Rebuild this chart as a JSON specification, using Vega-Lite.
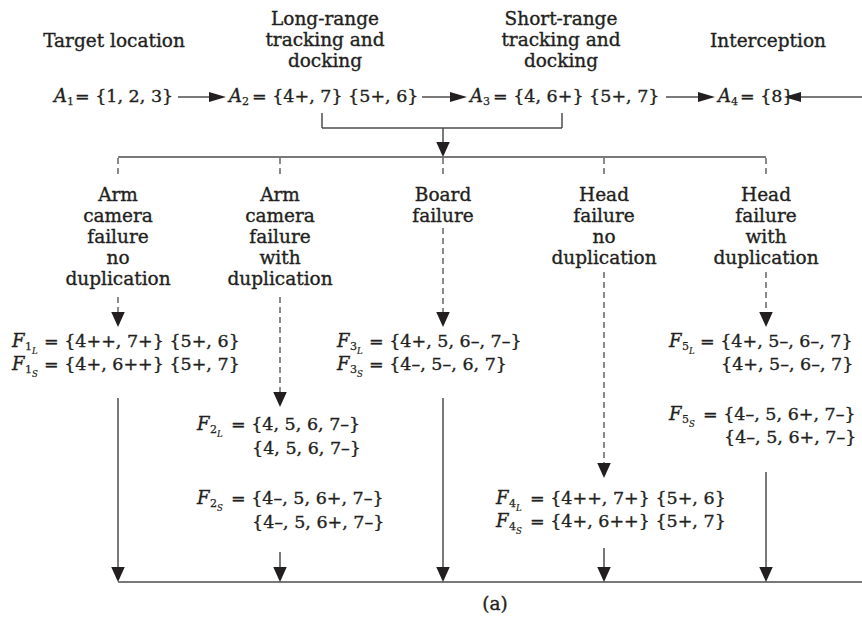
{
  "$schema": "https://vega.github.io/schema/vega-lite/v6.json",
  "width": 862,
  "height": 619,
  "padding": 0,
  "autosize": "none",
  "background": "white",
  "config": {"view": {"stroke": null}},
  "datasets": {
    "centerText": [
      {"x": 114, "y": 41, "t": "Target location"},
      {"x": 325, "y": 19, "t": "Long-range"},
      {"x": 325, "y": 40, "t": "tracking and"},
      {"x": 325, "y": 61, "t": "docking"},
      {"x": 561, "y": 19, "t": "Short-range"},
      {"x": 561, "y": 40, "t": "tracking and"},
      {"x": 561, "y": 61, "t": "docking"},
      {"x": 768, "y": 41, "t": "Interception"},
      {"x": 118, "y": 195, "t": "Arm"},
      {"x": 118, "y": 216, "t": "camera"},
      {"x": 118, "y": 237, "t": "failure"},
      {"x": 118, "y": 258, "t": "no"},
      {"x": 118, "y": 279, "t": "duplication"},
      {"x": 280, "y": 195, "t": "Arm"},
      {"x": 280, "y": 216, "t": "camera"},
      {"x": 280, "y": 237, "t": "failure"},
      {"x": 280, "y": 258, "t": "with"},
      {"x": 280, "y": 279, "t": "duplication"},
      {"x": 443, "y": 195, "t": "Board"},
      {"x": 443, "y": 216, "t": "failure"},
      {"x": 604, "y": 195, "t": "Head"},
      {"x": 604, "y": 216, "t": "failure"},
      {"x": 604, "y": 237, "t": "no"},
      {"x": 604, "y": 258, "t": "duplication"},
      {"x": 766, "y": 195, "t": "Head"},
      {"x": 766, "y": 216, "t": "failure"},
      {"x": 766, "y": 237, "t": "with"},
      {"x": 766, "y": 258, "t": "duplication"},
      {"x": 495, "y": 604, "t": "(a)"}
    ],
    "leftText": [
      {"x": 75, "y": 97, "t": "= {1, 2, 3}"},
      {"x": 252, "y": 97, "t": "= {4+, 7} {5+, 6}"},
      {"x": 493, "y": 97, "t": "= {4, 6+} {5+, 7}"},
      {"x": 740, "y": 97, "t": "= {8}"},
      {"x": 44, "y": 342, "t": "= {4++, 7+} {5+, 6}"},
      {"x": 44, "y": 365, "t": "= {4+, 6++} {5+, 7}"},
      {"x": 231, "y": 425, "t": "= {4, 5, 6, 7–}"},
      {"x": 252, "y": 449, "t": "{4, 5, 6, 7–}"},
      {"x": 231, "y": 499, "t": "= {4–, 5, 6+, 7–}"},
      {"x": 252, "y": 523, "t": "{4–, 5, 6+, 7–}"},
      {"x": 369, "y": 342, "t": "= {4+, 5, 6–, 7–}"},
      {"x": 369, "y": 365, "t": "= {4–, 5–, 6, 7}"},
      {"x": 530, "y": 499, "t": "= {4++, 7+} {5+, 6}"},
      {"x": 530, "y": 522, "t": "= {4+, 6++} {5+, 7}"},
      {"x": 700, "y": 342, "t": "= {4+, 5–, 6–, 7}"},
      {"x": 721, "y": 365, "t": "{4+, 5–, 6–, 7}"},
      {"x": 703, "y": 415, "t": "= {4–, 5, 6+, 7–}"},
      {"x": 724, "y": 438, "t": "{4–, 5, 6+, 7–}"}
    ],
    "italicText": [
      {"x": 54, "y": 97, "t": "A"},
      {"x": 229, "y": 97, "t": "A"},
      {"x": 470, "y": 97, "t": "A"},
      {"x": 718, "y": 97, "t": "A"},
      {"x": 12, "y": 342, "t": "F"},
      {"x": 12, "y": 365, "t": "F"},
      {"x": 197, "y": 425, "t": "F"},
      {"x": 197, "y": 499, "t": "F"},
      {"x": 337, "y": 342, "t": "F"},
      {"x": 337, "y": 365, "t": "F"},
      {"x": 496, "y": 499, "t": "F"},
      {"x": 496, "y": 522, "t": "F"},
      {"x": 669, "y": 342, "t": "F"},
      {"x": 669, "y": 415, "t": "F"}
    ],
    "subText": [
      {"x": 67, "y": 102, "t": "1"},
      {"x": 242, "y": 102, "t": "2"},
      {"x": 483, "y": 102, "t": "3"},
      {"x": 731, "y": 102, "t": "4"},
      {"x": 25, "y": 347, "t": "1"},
      {"x": 25, "y": 370, "t": "1"},
      {"x": 210, "y": 430, "t": "2"},
      {"x": 210, "y": 504, "t": "2"},
      {"x": 350, "y": 347, "t": "3"},
      {"x": 350, "y": 370, "t": "3"},
      {"x": 509, "y": 504, "t": "4"},
      {"x": 509, "y": 527, "t": "4"},
      {"x": 682, "y": 347, "t": "5"},
      {"x": 682, "y": 420, "t": "5"}
    ],
    "subSubText": [
      {"x": 32, "y": 351, "t": "L"},
      {"x": 32, "y": 374, "t": "S"},
      {"x": 217, "y": 434, "t": "L"},
      {"x": 217, "y": 508, "t": "S"},
      {"x": 357, "y": 351, "t": "L"},
      {"x": 357, "y": 374, "t": "S"},
      {"x": 516, "y": 508, "t": "L"},
      {"x": 516, "y": 531, "t": "S"},
      {"x": 689, "y": 351, "t": "L"},
      {"x": 689, "y": 424, "t": "S"}
    ],
    "solidLines": [
      {"x": 178, "y": 97, "x2": 222, "y2": 97},
      {"x": 422, "y": 97, "x2": 463, "y2": 97},
      {"x": 666, "y": 97, "x2": 711, "y2": 97},
      {"x": 789, "y": 97, "x2": 862, "y2": 97},
      {"x": 322, "y": 113, "x2": 322, "y2": 128},
      {"x": 322, "y": 128, "x2": 562, "y2": 128},
      {"x": 562, "y": 113, "x2": 562, "y2": 128},
      {"x": 443, "y": 128, "x2": 443, "y2": 150},
      {"x": 118, "y": 157, "x2": 766, "y2": 157},
      {"x": 118, "y": 398, "x2": 118, "y2": 575},
      {"x": 280, "y": 552, "x2": 280, "y2": 575},
      {"x": 443, "y": 398, "x2": 443, "y2": 575},
      {"x": 604, "y": 548, "x2": 604, "y2": 575},
      {"x": 766, "y": 472, "x2": 766, "y2": 575},
      {"x": 118, "y": 582, "x2": 862, "y2": 582}
    ],
    "dashedLines": [
      {"x": 118, "y": 158, "x2": 118, "y2": 178},
      {"x": 280, "y": 158, "x2": 280, "y2": 178},
      {"x": 443, "y": 158, "x2": 443, "y2": 178},
      {"x": 604, "y": 158, "x2": 604, "y2": 178},
      {"x": 766, "y": 158, "x2": 766, "y2": 178},
      {"x": 118, "y": 297, "x2": 118, "y2": 318},
      {"x": 280, "y": 297, "x2": 280, "y2": 398},
      {"x": 443, "y": 228, "x2": 443, "y2": 318},
      {"x": 604, "y": 272, "x2": 604, "y2": 469},
      {"x": 766, "y": 272, "x2": 766, "y2": 318}
    ],
    "downTips": [
      {"x": 443, "y": 157},
      {"x": 118, "y": 327},
      {"x": 280, "y": 407},
      {"x": 443, "y": 327},
      {"x": 604, "y": 478},
      {"x": 766, "y": 327},
      {"x": 118, "y": 582},
      {"x": 280, "y": 582},
      {"x": 443, "y": 582},
      {"x": 604, "y": 582},
      {"x": 766, "y": 582}
    ],
    "rightTips": [
      {"x": 226, "y": 97},
      {"x": 467, "y": 97},
      {"x": 715, "y": 97}
    ],
    "leftTips": [
      {"x": 784, "y": 97}
    ]
  },
  "layer": [
    {
      "data": {"name": "solidLines"},
      "mark": {"type": "rule", "color": "#4d4d4d", "strokeWidth": 1.5},
      "encoding": {
        "x": {"field": "x", "type": "quantitative", "scale": {"domain": [0, 862], "nice": false, "zero": false}, "axis": null},
        "y": {"field": "y", "type": "quantitative", "scale": {"domain": [0, 619], "nice": false, "zero": false, "reverse": true}, "axis": null},
        "x2": {"field": "x2"},
        "y2": {"field": "y2"}
      }
    },
    {
      "data": {"name": "dashedLines"},
      "mark": {"type": "rule", "color": "#4d4d4d", "strokeWidth": 1.3, "strokeDash": [6, 4]},
      "encoding": {
        "x": {"field": "x", "type": "quantitative", "axis": null},
        "y": {"field": "y", "type": "quantitative", "axis": null},
        "x2": {"field": "x2"},
        "y2": {"field": "y2"}
      }
    },
    {
      "data": {"name": "downTips"},
      "mark": {"type": "point", "shape": "M-0.45,-1L0.45,-1L0,0Z", "size": 900, "filled": true, "color": "#231f20", "opacity": 1, "strokeWidth": 0},
      "encoding": {
        "x": {"field": "x", "type": "quantitative", "axis": null},
        "y": {"field": "y", "type": "quantitative", "axis": null}
      }
    },
    {
      "data": {"name": "rightTips"},
      "mark": {"type": "point", "shape": "M-1,-0.3L0,0L-1,0.3Z", "size": 1156, "filled": true, "color": "#231f20", "opacity": 1, "strokeWidth": 0},
      "encoding": {
        "x": {"field": "x", "type": "quantitative", "axis": null},
        "y": {"field": "y", "type": "quantitative", "axis": null}
      }
    },
    {
      "data": {"name": "leftTips"},
      "mark": {"type": "point", "shape": "M1,-0.3L0,0L1,0.3Z", "size": 1156, "filled": true, "color": "#231f20", "opacity": 1, "strokeWidth": 0},
      "encoding": {
        "x": {"field": "x", "type": "quantitative", "axis": null},
        "y": {"field": "y", "type": "quantitative", "axis": null}
      }
    },
    {
      "data": {"name": "centerText"},
      "mark": {"type": "text", "font": "DejaVu Serif", "fontSize": 18.5, "align": "center", "baseline": "middle", "color": "#231f20", "stroke": "#231f20", "strokeWidth": 0.35},
      "encoding": {
        "x": {"field": "x", "type": "quantitative", "axis": null},
        "y": {"field": "y", "type": "quantitative", "axis": null},
        "text": {"field": "t"}
      }
    },
    {
      "data": {"name": "leftText"},
      "mark": {"type": "text", "font": "DejaVu Serif", "fontSize": 17.5, "align": "left", "baseline": "middle", "color": "#231f20", "stroke": "#231f20", "strokeWidth": 0.35},
      "encoding": {
        "x": {"field": "x", "type": "quantitative", "axis": null},
        "y": {"field": "y", "type": "quantitative", "axis": null},
        "text": {"field": "t"}
      }
    },
    {
      "data": {"name": "italicText"},
      "mark": {"type": "text", "font": "DejaVu Serif", "fontSize": 18, "fontStyle": "italic", "align": "left", "baseline": "middle", "color": "#231f20", "stroke": "#231f20", "strokeWidth": 0.35},
      "encoding": {
        "x": {"field": "x", "type": "quantitative", "axis": null},
        "y": {"field": "y", "type": "quantitative", "axis": null},
        "text": {"field": "t"}
      }
    },
    {
      "data": {"name": "subText"},
      "mark": {"type": "text", "font": "DejaVu Serif", "fontSize": 11, "align": "left", "baseline": "middle", "color": "#231f20", "stroke": "#231f20", "strokeWidth": 0.25},
      "encoding": {
        "x": {"field": "x", "type": "quantitative", "axis": null},
        "y": {"field": "y", "type": "quantitative", "axis": null},
        "text": {"field": "t"}
      }
    },
    {
      "data": {"name": "subSubText"},
      "mark": {"type": "text", "font": "DejaVu Serif", "fontSize": 8.5, "fontStyle": "italic", "align": "left", "baseline": "middle", "color": "#231f20", "stroke": "#231f20", "strokeWidth": 0.2},
      "encoding": {
        "x": {"field": "x", "type": "quantitative", "axis": null},
        "y": {"field": "y", "type": "quantitative", "axis": null},
        "text": {"field": "t"}
      }
    }
  ]
}
